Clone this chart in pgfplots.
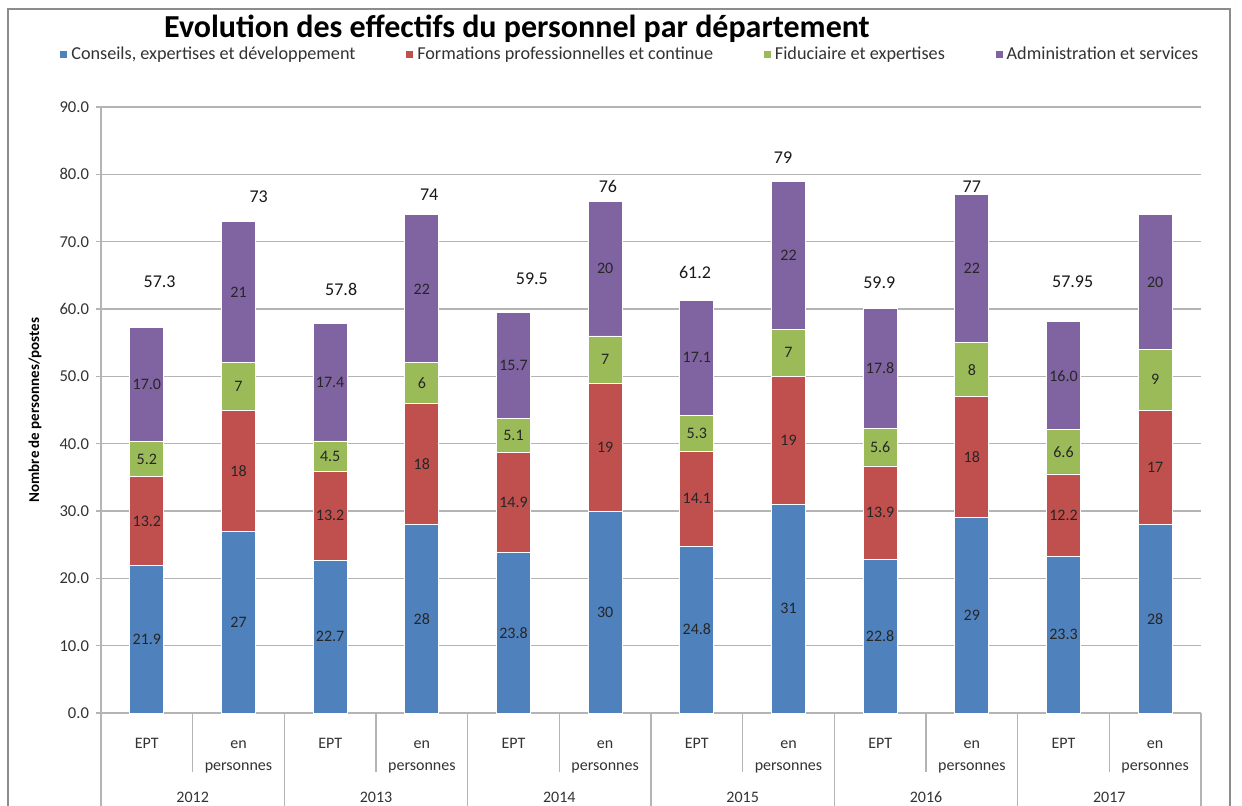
\documentclass[border=0pt]{standalone}
\usepackage{pgfplots}
\pgfplotsset{compat=1.18}
\usepackage{pgfplotstable}
\usepackage{fontspec}
\setmainfont{Carlito}
\definecolor{cBlue}{HTML}{4F81BD}
\definecolor{cRed}{HTML}{C0504D}
\definecolor{cGreen}{HTML}{9BBB59}
\definecolor{cPurple}{HTML}{8064A2}
\definecolor{gridc}{HTML}{B4B4B4}

\pgfplotstableread{
x  a    b    c   d
0  21.9 13.2 5.2 17.0
1  27   18   7   21
2  22.7 13.2 4.5 17.4
3  28   18   6   22
4  23.8 14.9 5.1 15.7
5  30   19   7   20
6  24.8 14.1 5.3 17.1
7  31   19   7   22
8  22.8 13.9 5.6 17.8
9  29   18   8   22
10 23.3 12.2 6.6 16.0
11 28   17   9   20
}\data

\pgfplotstableread{
x  y     label
0  10.95 21.9
0  28.5  13.2
0  37.7  5.2
0  48.8  17.0
1  13.5  27
1  36    18
1  48.5  7
1  62.5  21
2  11.35 22.7
2  29.3  13.2
2  38.15 4.5
2  49.1  17.4
3  14    28
3  37    18
3  49    6
3  63    22
4  11.9  23.8
4  31.25 14.9
4  41.25 5.1
4  51.65 15.7
5  15    30
5  39.5  19
5  52.5  7
5  66    20
6  12.4  24.8
6  31.85 14.1
6  41.55 5.3
6  52.75 17.1
7  15.5  31
7  40.5  19
7  53.5  7
7  68    22
8  11.4  22.8
8  29.75 13.9
8  39.5  5.6
8  51.2  17.8
9  14.5  29
9  38    18
9  51    8
9  66    22
10 11.65 23.3
10 29.4  12.2
10 38.8  6.6
10 50.1  16.0
11 14    28
11 36.5  17
11 49.5  9
11 64    20
}\seglabels

\pgfplotstableread{
x     y    label
0.14  64.0 57.3
1.22  76.7 73
2.12  62.9 57.8
3.08  77.0 74
4.20  64.5 59.5
5.03  78.2 76
5.98  65.4 61.2
6.94  82.5 79
7.99  63.9 59.9
9.00  78.2 77
10.10 64.0 57.95
}\totlabels

\begin{document}
\begin{tikzpicture}
\useasboundingbox (0,0) rectangle (621pt,402.5pt);
\fill[white] (0,0) rectangle (621pt,402.5pt);
\draw[black!45, line width=0.8pt] (4pt,-5pt) rectangle (615pt,398pt);
\node[font=\fontsize{16}{19}\bfseries\selectfont, anchor=center, inner sep=0pt] at (258.5pt,388pt) {Evolution des effectifs du personnel par département};

\begin{axis}[
  at={(50.5pt,46pt)}, anchor=south west,
  scale only axis, width=550pt, height=303pt,
  ybar stacked, bar width=17pt,
  xmin=-0.5, xmax=11.5, ymin=0, ymax=90,
  axis x line*=bottom, axis y line*=left,
  axis line style={gridc, line width=0.8pt},
  ytick={0,10,...,90},
  ymajorgrids, grid style={gridc, line width=0.8pt},
  y tick style={gridc, line width=0.8pt},
  tick align=outside, major tick length=2.5pt,
  /pgf/number format/assume math mode=true,
  yticklabel={\pgfmathprintnumber[fixed,fixed zerofill,precision=1]{\tick}},
  yticklabel style={font=\fontsize{8.3}{9}\selectfont, text=black!80},
  xtick={0,...,11},
  x tick style={draw=none},
  xticklabels={\strut EPT,{\strut en\\personnes},\strut EPT,{\strut en\\personnes},\strut EPT,{\strut en\\personnes},\strut EPT,{\strut en\\personnes},\strut EPT,{\strut en\\personnes},\strut EPT,{\strut en\\personnes}},
  xticklabel style={align=center, font=\fontsize{8}{11}\selectfont, text=black!80, yshift=-4pt},
  ylabel={Nombre de personnes/postes},
  ylabel style={at={(axis description cs:-0.06,0.5)}, anchor=center, font=\fontsize{7.5}{9}\bfseries\selectfont},
  clip=false,
  legend columns=4,
  legend style={at={(axis description cs:-0.043,1.087)}, anchor=west, draw=none, fill=none,
    font=\fontsize{9.1}{10}\selectfont, text=black!80,
    /tikz/every even column/.append style={column sep=23.3pt}},
  legend image code/.code={\path[#1,draw=none] (0pt,-1.8pt) rectangle (3.6pt,1.8pt);},
]
\addplot[fill=cBlue, draw=white, line width=0.4pt] table[x=x,y=a] {\data};
\addplot[fill=cRed, draw=white, line width=0.4pt] table[x=x,y=b] {\data};
\addplot[fill=cGreen, draw=white, line width=0.4pt] table[x=x,y=c] {\data};
\addplot[fill=cPurple, draw=white, line width=0.4pt] table[x=x,y=d] {\data};
\legend{{Conseils, expertises et développement},{Formations professionnelles et continue},{Fiduciaire et expertises},{Administration et services}}
\pgfplotsinvokeforeach{-0.5,1.5,3.5,5.5,7.5,9.5,11.5}{\draw[gridc, line width=0.8pt] (axis cs:#1,0) -- ++(0pt,-50pt);}
\pgfplotsinvokeforeach{0.5,2.5,4.5,6.5,8.5,10.5}{\draw[gridc, line width=0.8pt] (axis cs:#1,0) -- ++(0pt,-29.5pt);}
\end{axis}

\begin{axis}[
  at={(50.5pt,46pt)}, anchor=south west,
  scale only axis, width=550pt, height=303pt,
  xmin=-0.5, xmax=11.5, ymin=0, ymax=90,
  axis line style={draw=none},
  ytick=\empty,
  xtick={0.5,2.5,4.5,6.5,8.5,10.5},
  xticklabels={2012,2013,2014,2015,2016,2017},
  x tick style={draw=none}, major tick length=0pt,
  xticklabel style={font=\fontsize{8}{9}\selectfont, text=black!80, yshift=-36pt},
  clip=false,
]
\addplot[only marks, mark=none, nodes near coords, point meta=explicit symbolic,
  nodes near coords style={anchor=center, font=\fontsize{8}{9}\selectfont, text=black!85}]
  table[x=x,y=y,meta=label] {\seglabels};
\addplot[only marks, mark=none, nodes near coords, point meta=explicit symbolic,
  nodes near coords style={anchor=center, font=\fontsize{9}{10}\selectfont, text=black!90}]
  table[x=x,y=y,meta=label] {\totlabels};
\end{axis}
\end{tikzpicture}
\end{document}
